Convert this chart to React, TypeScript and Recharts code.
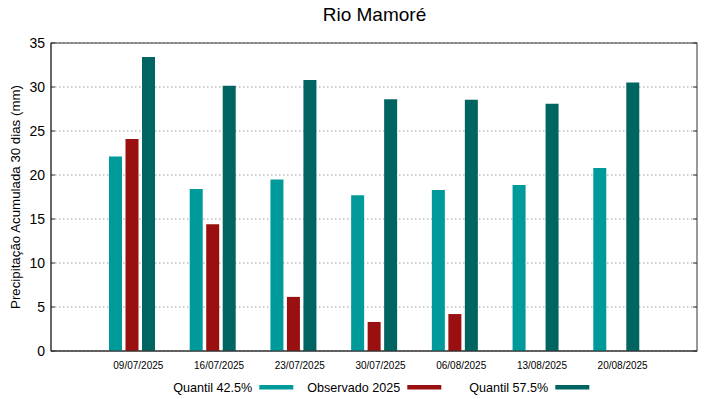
import React from 'react';
import * as R from 'recharts';
import { BarChart, Bar, XAxis, YAxis, CartesianGrid } from 'recharts';

const categories = ['09/07/2025', '16/07/2025', '23/07/2025', '30/07/2025', '06/08/2025', '13/08/2025', '20/08/2025'];
const quantil425 = [22.1, 18.4, 19.5, 17.7, 18.3, 18.85, 20.8];
const observado2025: (number | null)[] = [24.1, 14.4, 6.15, 3.3, 4.2, null, null];
const quantil575 = [33.4, 30.15, 30.8, 28.6, 28.55, 28.1, 30.5];
const yTicks = [0, 5, 10, 15, 20, 25, 30, 35];
const seriesKeys = ['q425', 'obs', 'q575'];
const seriesNames = ['Quantil 42.5%', 'Observado 2025', 'Quantil 57.5%'];
const seriesColors = ['#009a9a', '#9a0f0f', '#006562'];
const titleText = 'Rio Mamoré';
const yLabelText = 'Precipitação Acumulada 30 dias (mm)';

const data = categories.map((date, i) => ({
  date,
  q425: quantil425[i],
  obs: observado2025[i],
  q575: quantil575[i],
}));

const FONT = '"Liberation Sans", Arial, Helvetica, sans-serif';
const PAD = { left: 41, right: 40 };
const FRAME = { stroke: '#333', strokeWidth: 1 };
const Y_MAX = yTicks[yTicks.length - 1];

const usePlotAreaSafe: () => any = (R as any).usePlotArea || (() => null);

function Frame() {
  const pa = usePlotAreaSafe();
  if (!pa) return null;
  const right = pa.x + pa.width;
  return (
    <g>
      <rect x={pa.x} y={pa.y} width={pa.width} height={pa.height} fill="none" stroke="#333" strokeWidth={1} />
      {yTicks.map((t) => {
        const y = pa.y + pa.height * (1 - t / Y_MAX);
        return (
          <g key={t}>
            <line x1={right} x2={right - 4} y1={y} y2={y} stroke="#333" />
            <line x1={pa.x} x2={pa.x + 4} y1={y} y2={y} stroke="#333" />
          </g>
        );
      })}
    </g>
  );
}

export default function App() {
  return (
    <div style={{ position: 'absolute', left: 0, top: 0, width: 719, height: 399, background: '#fff', fontFamily: FONT }}>
      <BarChart
        width={719}
        height={399}
        data={data}
        margin={{ top: 43, right: 22, bottom: 18, left: 0 }}
        barSize={13}
        barGap={3.5}
      >
        <CartesianGrid horizontal vertical={false} stroke="#9a9a9a" strokeDasharray="1.5 2.5" />
        <XAxis
          dataKey="date"
          padding={PAD}
          height={30}
          interval={0}
          tickSize={0}
          tickMargin={11}
          axisLine={FRAME}
          tickLine={false}
          tick={{ fontSize: 10, fill: '#000', dx: 6, fontFamily: FONT }}
        />
        <YAxis
          domain={[0, Y_MAX]}
          ticks={yTicks}
          width={51}
          tickSize={0}
          tickMargin={6}
          axisLine={FRAME}
          tickLine={false}
          tick={{ fontSize: 14, fill: '#000', fontFamily: FONT }}
        />
        {seriesKeys.map((k, i) => (
          <Bar key={k} dataKey={k} name={seriesNames[i]} fill={seriesColors[i]} isAnimationActive={false} />
        ))}
        <Frame />
      </BarChart>
      <svg
        width={719}
        height={399}
        style={{ position: 'absolute', left: 0, top: 0, pointerEvents: 'none', fontFamily: FONT }}
      >
        <text x={374.5} y={21} textAnchor="middle" fontSize={19} fill="#000">{titleText}</text>
        <text transform="rotate(-90)" x={-197} y={20} textAnchor="middle" fontSize={13.3} fill="#000">{yLabelText}</text>
        {seriesNames.map((n, i) => {
          const sx = 259.3 + 148 * i;
          return (
            <g key={n}>
              <text x={sx - 7} y={392} textAnchor="end" fontSize={12.6} fill="#000">{n}</text>
              <rect x={sx} y={385} width={34} height={4.5} fill={seriesColors[i]} />
            </g>
          );
        })}
      </svg>
    </div>
  );
}
